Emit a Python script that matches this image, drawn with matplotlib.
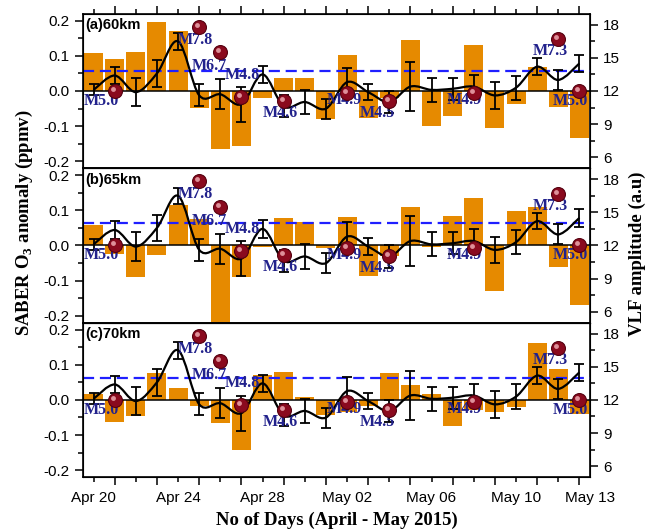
import numpy as np
import matplotlib
matplotlib.use("Agg")
import matplotlib.pyplot as plt
from matplotlib.path import Path
from matplotlib.patches import PathPatch
from matplotlib.ticker import MultipleLocator
from matplotlib.transforms import offset_copy

plt.rcParams['font.family'] = ['Liberation Sans', 'DejaVu Sans']
plt.rcParams['axes.unicode_minus'] = False
plt.rcParams['mathtext.fontset'] = 'custom'
plt.rcParams['mathtext.rm'] = 'Liberation Serif:bold'
plt.rcParams['mathtext.bf'] = 'Liberation Serif:bold'

# days since Apr 20, 2015 (24 daily values up to May 13)
days = list(range(24))
date_labels = ["Apr 20", "Apr 24", "Apr 28", "May 02", "May 06", "May 10", "May 13"]
label_days = [0, 4, 8, 12, 16, 20, 23.5]

# SABER O3 anomaly (ppmv) at three heights
o3_60 = [0.108, 0.090, 0.111, 0.196, 0.171, -0.049, -0.165, -0.158, -0.021, 0.036, 0.036, -0.079,
         0.102, -0.077, -0.020, 0.145, -0.100, -0.070, 0.130, -0.105, -0.038, 0.069, -0.046, -0.135]
o3_65 = [0.057, -0.025, -0.089, -0.026, 0.114, 0.076, -0.240, -0.090, -0.005, 0.079, 0.067, -0.007,
         0.081, -0.087, -0.030, 0.109, -0.005, 0.083, 0.135, -0.130, 0.097, 0.110, -0.060, -0.170]
o3_70 = [0.017, -0.063, -0.047, 0.076, 0.033, -0.018, -0.065, -0.142, 0.071, 0.080, 0.009, -0.042,
         -0.035, -0.017, 0.077, 0.042, 0.017, -0.073, -0.030, -0.035, -0.020, 0.163, 0.089, -0.039]
o3_threshold = [0.058, 0.063, 0.062]
panel_tags = ["(a)60km", "(b)65km", "(c)70km"]

# VLF amplitude (a.u) with error bars
vlf = [12.1, 13.4, 11.9, 13.6, 16.5, 11.6, 11.7, 10.8, 13.5, 10.6, 11.0, 10.4,
       12.8, 11.9, 11.0, 12.4, 12.1, 12.2, 12.4, 11.6, 12.3, 14.2, 13.0, 14.5]
vlf_err = [0.5, 0.8, 1.3, 1.2, 0.75, 1.0, 1.35, 1.6, 0.8, 1.0, 1.1, 0.9,
           1.3, 0.75, 1.0, 2.25, 1.1, 1.0, 1.05, 1.2, 1.1, 0.75, 0.9, 0.8]

# earthquakes
eq_days = [1, 5, 6, 7, 9, 12, 14, 18, 22, 23]
eq_level = [12.0, 17.8, 15.5, 11.5, 11.1, 11.8, 11.05, 11.8, 16.7, 12.0]
eq_mag = ["M5.0", "M7.8", "M6.7", "M4.8", "M4.6", "M4.9", "M4.5", "M4.9", "M7.3", "M5.0"]
# label offsets in pixels from marker centre
eq_label_off = [(-13, -10), (-4, -13), (-11, -14), (1, 22), (-3, -12),
                (-3, -7), (-12, -12), (-9, -7), (-8, -12), (-9, -10)]

ORANGE = '#E68A00'
NAVY = '#22228C'


def smooth_path(x, y):
    # catmull-rom through the points, drawn as cubic beziers
    pts = list(zip(x, y))
    verts = [pts[0]]
    codes = [Path.MOVETO]
    n = len(pts)
    for i in range(n - 1):
        p0 = pts[max(i - 1, 0)]
        p1 = pts[i]
        p2 = pts[i + 1]
        p3 = pts[min(i + 2, n - 1)]
        c1 = (p1[0] + (p2[0] - p0[0]) / 6, p1[1] + (p2[1] - p0[1]) / 6)
        c2 = (p2[0] - (p3[0] - p1[0]) / 6, p2[1] - (p3[1] - p1[1]) / 6)
        verts += [c1, c2, p2]
        codes += [Path.CURVE4] * 3
    return Path(verts, codes)


fig = plt.figure(figsize=(6.49, 5.29), dpi=100)
axes = fig.subplots(3, 1, sharex=True, gridspec_kw=dict(hspace=0))
fig.subplots_adjust(left=0.128, right=0.909, bottom=0.098, top=0.974)

for i, (ax, o3, thr, tag) in enumerate(zip(axes, [o3_60, o3_65, o3_70], o3_threshold, panel_tags)):
    ax.bar(days, o3, width=0.9, color=ORANGE, zorder=1)
    ax.axhline(0, color='k', lw=1.1, zorder=2)
    ax.axhline(thr, color='#1f1fff', lw=1.6, ls=(0, (5, 2.6)), zorder=3)
    ax.set_xlim(-0.5, 23.5)
    ax.set_ylim(-0.22, 0.22)
    ax.yaxis.set_major_locator(MultipleLocator(0.1))
    ax.yaxis.set_minor_locator(MultipleLocator(0.05))
    ax.xaxis.set_major_locator(MultipleLocator(2, offset=1))
    ax.xaxis.set_minor_locator(MultipleLocator(1))
    ax.tick_params(which='both', direction='out', labelsize=11, width=1.1,
                   top=(i == 0), labelbottom=False)
    ax.tick_params(which='major', length=6)
    ax.tick_params(which='minor', length=3.5)
    for s in ax.spines.values():
        s.set_linewidth(1.2)
    ax.text(0.004, 0.925, tag, transform=ax.transAxes, fontsize=10.5,
            fontweight='bold', va='center', ha='left', zorder=6)

    tw = ax.twinx()
    tw.set_ylim(5, 19)
    tw.yaxis.set_major_locator(MultipleLocator(3))
    tw.yaxis.set_minor_locator(MultipleLocator(1.5))
    tw.tick_params(which='both', direction='out', labelsize=11, width=1.1)
    tw.tick_params(which='major', length=6)
    tw.tick_params(which='minor', length=3.5)
    tw.errorbar(days, vlf, yerr=vlf_err, fmt='none', ecolor='k', elinewidth=1.3,
                capsize=3.5, capthick=1.3, zorder=3)
    tw.add_patch(PathPatch(smooth_path(days, vlf), fill=False, lw=1.6, ec='k', zorder=3))

    for d, lev, lab, (dx, dy) in zip(eq_days, eq_level, eq_mag, eq_label_off):
        tr = offset_copy(tw.transData, fig=fig, x=dx, y=dy, units='dots')
        tw.text(d, lev, lab, transform=tr, ha='center', va='center', color=NAVY,
                fontsize=11.5, fontweight='bold', family='Liberation Serif', zorder=4)
    tw.plot(eq_days, eq_level, 'o', ms=10, mfc='#8A0A1E', mec='#55000F', mew=0.8, zorder=5)
    hl = offset_copy(tw.transData, fig=fig, x=-2, y=2, units='dots')
    tw.plot(eq_days, eq_level, 'o', ms=3.5, mfc='#E8A0A8', mec='none', alpha=0.9,
            transform=hl, zorder=6)

sec = axes[2].secondary_xaxis('bottom')
sec.set_xticks(label_days, date_labels)
sec.tick_params(length=0, pad=10, labelsize=11)
sec.spines['bottom'].set_visible(False)

serif = dict(family='Liberation Serif', fontweight='bold', fontsize=13.5)
fig.text(0.038, 0.58, 'SABER O$_3$ anomaly (ppmv)', rotation=90, ha='center', va='center', **serif)
fig.text(0.982, 0.52, 'VLF amplitude (a.u)', rotation=90, ha='center', va='center', **serif)
fig.text(0.519, 0.017, 'No of Days (April - May 2015)', ha='center', va='center', **serif)

fig.savefig('out.png', dpi=100)
